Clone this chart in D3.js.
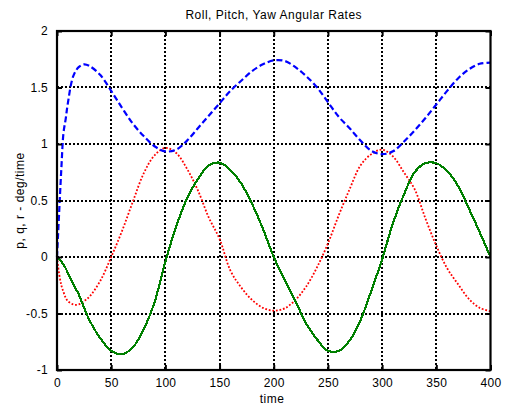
<!DOCTYPE html>
<html>
<head>
<meta charset="utf-8">
<script src="https://d3js.org/d3.v7.min.js"></script>
<style>
  body { margin: 0; background: #fff; }
  text { font-family: "Liberation Sans", Arial, sans-serif; fill: #000; }
</style>
</head>
<body>
<svg id="graph" width="510" height="408"></svg>
<script>
  var svg = d3.select("#graph");

  // time samples
  var time = [0, 2, 4, 6, 8, 10, 15, 20, 25, 30, 40, 50, 60, 70, 80, 90, 100, 110, 120, 130,
              140, 150, 160, 170, 180, 190, 200, 210, 220, 230, 240, 250, 260, 270, 280, 290,
              300, 310, 320, 330, 340, 350, 360, 370, 380, 390, 400];

  // roll rate p (blue dashed)
  var pRate = [0, 0.40, 0.78, 1.10, 1.22, 1.36, 1.60, 1.68, 1.705, 1.69, 1.61, 1.47, 1.32, 1.18, 1.07, 0.98,
               0.935, 0.95, 1.03, 1.14, 1.25, 1.36, 1.47, 1.56, 1.645, 1.705, 1.74, 1.735, 1.68, 1.60, 1.50,
               1.37, 1.24, 1.14, 1.03, 0.94, 0.91, 0.935, 1.02, 1.12, 1.23, 1.35, 1.47, 1.58, 1.66, 1.71, 1.72];

  // pitch rate q (green solid)
  var qRate = [0, -0.02, -0.04, -0.07, -0.10, -0.14, -0.24, -0.33, -0.45, -0.56, -0.72, -0.83, -0.86, -0.80,
               -0.64, -0.40, -0.04, 0.27, 0.52, 0.69, 0.81, 0.835, 0.77, 0.65, 0.47, 0.25, 0.0, -0.20, -0.39,
               -0.59, -0.73, -0.83, -0.83, -0.74, -0.56, -0.30, -0.02, 0.30, 0.55, 0.75, 0.83, 0.83, 0.76,
               0.63, 0.43, 0.22, 0.0];

  // yaw rate r (red dotted)
  var rRate = [0, -0.15, -0.25, -0.31, -0.36, -0.39, -0.42, -0.42, -0.39, -0.35, -0.21, 0.0, 0.23, 0.49,
               0.74, 0.90, 0.965, 0.92, 0.78, 0.59, 0.35, 0.16, -0.12, -0.27, -0.38, -0.45, -0.475, -0.455,
               -0.38, -0.26, -0.09, 0.12, 0.37, 0.60, 0.81, 0.91, 0.95, 0.89, 0.75, 0.60, 0.34, 0.10, -0.10,
               -0.24, -0.37, -0.45, -0.48];

  var xTicks = [0, 50, 100, 150, 200, 250, 300, 350, 400];
  var yTicks = [-1, -0.5, 0, 0.5, 1, 1.5, 2];

  // plot box edges (note: "top" is a reserved window global, so use other names)
  var boxL = 57, boxR = 490.5, boxT = 31, boxB = 370;

  var x = d3.scaleLinear().domain([0, 400]).range([boxL, boxR]);
  var y = d3.scaleLinear().domain([-1, 2]).range([boxB, boxT]);

  // dotted grid
  svg.append("g").selectAll("line").data(xTicks.slice(1, -1)).enter().append("line")
    .attr("x1", function(d) { return Math.round(x(d)); }).attr("x2", function(d) { return Math.round(x(d)); })
    .attr("y1", boxT).attr("y2", boxB)
    .attr("stroke", "#000").attr("stroke-width", 2).attr("stroke-dasharray", "2,2")
    .style("shape-rendering", "crispEdges");
  svg.append("g").selectAll("line").data(yTicks.slice(1, -1)).enter().append("line")
    .attr("y1", function(d) { return Math.round(y(d)); }).attr("y2", function(d) { return Math.round(y(d)); })
    .attr("x1", boxL).attr("x2", boxR)
    .attr("stroke", "#000").attr("stroke-width", 2).attr("stroke-dasharray", "2,2")
    .style("shape-rendering", "crispEdges");

  // the three series
  function makeLine(vals) {
    return d3.line()
      .x(function(d, i) { return x(time[i]); })
      .y(function(d) { return y(d); })
      .curve(d3.curveCatmullRom.alpha(0.5))(vals);
  }

  svg.append("path").attr("d", makeLine(rRate))
    .attr("fill", "none").attr("stroke", "#ff0000")
    .attr("stroke-width", 1.8).attr("stroke-dasharray", "1.8,1.8");

  svg.append("path").attr("d", makeLine(qRate))
    .attr("fill", "none").attr("stroke", "#008000")
    .attr("stroke-width", 2.2).style("shape-rendering", "crispEdges");

  svg.append("path").attr("d", makeLine(pRate))
    .attr("fill", "none").attr("stroke", "#0000ff")
    .attr("stroke-width", 2.2).attr("stroke-dasharray", "6,3");

  // axes with inward ticks, MATLAB style
  var tickLen = 5;
  svg.append("g").attr("transform", "translate(0," + boxB + ")")
    .call(d3.axisBottom(x).tickValues(xTicks).tickSizeInner(-tickLen).tickSizeOuter(0).tickPadding(8))
    .call(function(g) { g.select(".domain").remove(); });
  svg.append("g").attr("transform", "translate(0," + boxT + ")")
    .call(d3.axisTop(x).tickValues(xTicks).tickSizeInner(-tickLen).tickSizeOuter(0).tickFormat(""))
    .call(function(g) { g.select(".domain").remove(); });
  svg.append("g").attr("transform", "translate(" + boxL + ",0)")
    .call(d3.axisLeft(y).tickValues(yTicks).tickSizeInner(-tickLen).tickSizeOuter(0).tickPadding(9)
      .tickFormat(function(d) { return String(d); }))
    .call(function(g) { g.select(".domain").remove(); });
  svg.append("g").attr("transform", "translate(" + boxR + ",0)")
    .call(d3.axisRight(y).tickValues(yTicks).tickSizeInner(-tickLen).tickSizeOuter(0).tickFormat(""))
    .call(function(g) { g.select(".domain").remove(); });

  svg.selectAll(".tick line").attr("stroke", "#000").attr("stroke-width", 2);
  svg.selectAll(".tick text")
    .style("font-size", "12px").style("letter-spacing", "0.3px")
    .style("font-family", "'Liberation Sans', Arial, sans-serif").attr("fill", "#000");

  // box
  svg.append("rect")
    .attr("x", boxL).attr("y", boxT)
    .attr("width", boxR - boxL).attr("height", boxB - boxT)
    .attr("fill", "none").attr("stroke", "#000").attr("stroke-width", 2.2);

  // labels
  svg.append("text").text("Roll, Pitch, Yaw Angular Rates")
    .attr("x", (boxL + boxR) / 2).attr("y", 19)
    .attr("text-anchor", "middle")
    .style("font-size", "12px").style("letter-spacing", "0.5px");

  svg.append("text").text("time")
    .attr("x", 272).attr("y", 403)
    .attr("text-anchor", "middle")
    .style("font-size", "12px").style("letter-spacing", "0.5px");

  svg.append("text").text("p, q, r - deg/time")
    .attr("transform", "translate(24," + ((boxT + boxB) / 2) + ") rotate(-90)")
    .attr("text-anchor", "middle")
    .style("font-size", "12px").style("letter-spacing", "0.5px");
</script>
</body>
</html>
